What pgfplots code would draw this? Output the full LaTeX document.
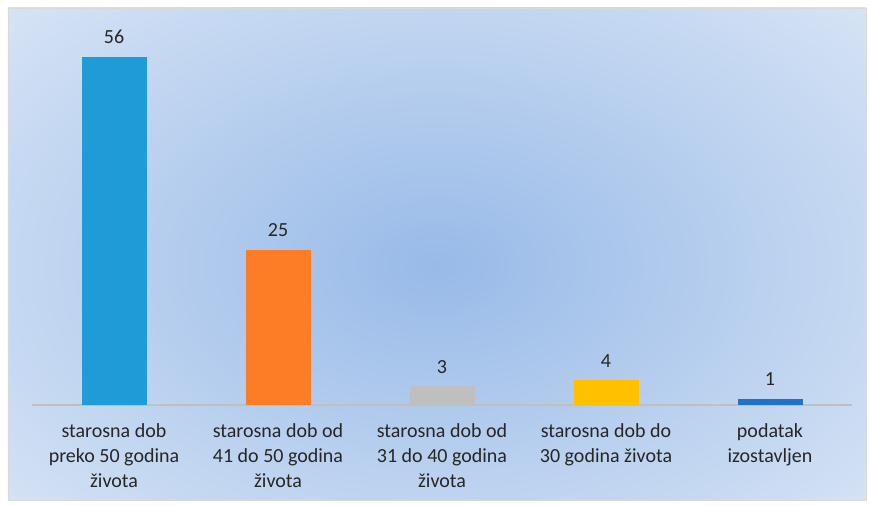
\documentclass[border=0pt]{standalone}
\usepackage{pgfplots}
\pgfplotsset{compat=1.18}
\usepackage{fontspec}
\setmainfont{Carlito}

\definecolor{barA}{HTML}{1E9CD7}
\definecolor{barB}{HTML}{FD7C26}
\definecolor{barC}{HTML}{BFBFBF}
\definecolor{barD}{HTML}{FFC000}
\definecolor{barE}{HTML}{1F72C6}
\definecolor{bgIn}{HTML}{98BAE8}
\definecolor{bgOut}{HTML}{E0EAF7}

\begin{document}
\begin{tikzpicture}
% page and chart area (plot area's lower left is at the origin)
\fill[white] (-16pt,-50.5pt) rectangle (419pt,202.5pt);
\begin{scope}
\clip (-12pt,-47.5pt) rectangle (417pt,198.5pt);
\shade[inner color=bgIn, outer color=bgOut] (-140pt,-150pt) rectangle (545pt,290pt);
\end{scope}
\draw[white!85!black, line width=0.4pt] (-12pt,-47.5pt) rectangle (417pt,198.5pt);

\begin{axis}[
    scale only axis,
    width=410pt, height=186.5pt,
    ybar, bar width=32.5pt, bar shift=0pt,
    xmin=-0.5, xmax=4.5,
    ymin=0, ymax=60,
    axis y line=none,
    axis x line*=bottom,
    x axis line style={draw=barC, line width=0.8pt, -},
    xtick={0,1,2,3,4},
    xticklabels={
        {starosna dob\\preko 50 godina\\života},
        {starosna dob od\\41 do 50 godina\\života},
        {starosna dob od\\31 do 40 godina\\života},
        {starosna dob do\\30 godina života},
        {podatak\\izostavljen}},
    xticklabel style={align=center, font=\fontsize{10}{12.5}\selectfont,
        text=black!85, anchor=north, yshift=-6pt},
    major tick length=0pt,
    /pgf/number format/assume math mode=true,
    nodes near coords={\pgfmathprintnumber{\pgfplotspointmeta}},
    every node near coord/.append style={font=\fontsize{10}{12}\selectfont,
        text=black!85, yshift=3pt},
]
\addplot[fill=barA, draw=none] coordinates {(0,56)};
\addplot[fill=barB, draw=none] coordinates {(1,25)};
\addplot[fill=barC, draw=none] coordinates {(2,3)};
\addplot[fill=barD, draw=none] coordinates {(3,4)};
\addplot[fill=barE, draw=none] coordinates {(4,1)};
\end{axis}
\end{tikzpicture}
\end{document}
